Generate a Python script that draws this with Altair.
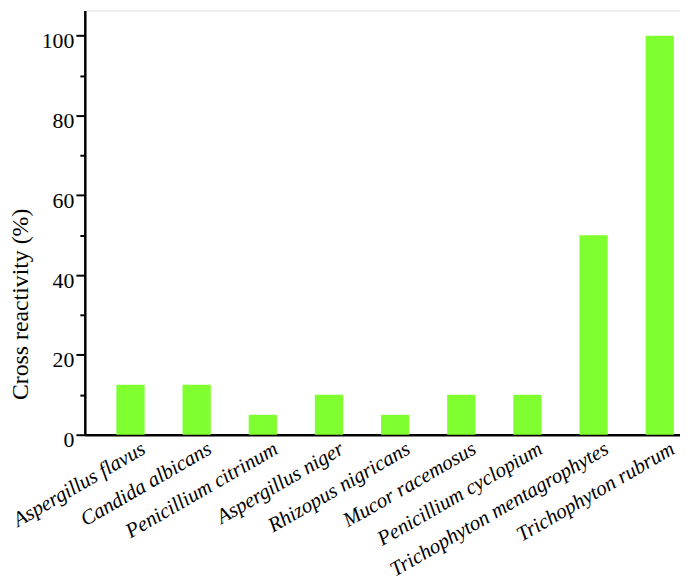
import altair as alt
import pandas as pd

species = [
    "Aspergillus flavus",
    "Candida albicans",
    "Penicillium citrinum",
    "Aspergillus niger",
    "Rhizopus nigricans",
    "Mucor racemosus",
    "Penicillium cyclopium",
    "Trichophyton mentagrophytes",
    "Trichophyton rubrum",
]
reactivity = [12.5, 12.5, 5, 10, 5, 10, 10, 50, 100]
y_ticks = [0, 10, 20, 30, 40, 50, 60, 70, 80, 90, 100]

df = pd.DataFrame({"species": species, "reactivity": reactivity})

FONT = "Liberation Serif"


def build(conditional=True):
    tick_size = (
        {"condition": {"test": "datum.value % 20 == 0", "value": 9}, "value": 5}
        if conditional
        else 8
    )
    yaxis = alt.Axis(
        title="Cross reactivity (%)",
        values=y_ticks,
        labelExpr="datum.value % 20 == 0 ? datum.label : ''",
        grid=False,
        domainColor="black",
        domainWidth=2.5,
        tickColor="black",
        tickWidth=2,
        tickSize=tick_size,
        labelFont=FONT,
        labelFontSize=22,
        labelColor="black",
        labelPadding=2,
        labelOffset=5,
        titleFont=FONT,
        titleFontSize=24,
        titleFontWeight="normal",
        titleColor="black",
        titleAngle=-90,
        titleAlign="center",
        titleBaseline="middle",
        titleX=-64.5,
        titleY=296,
    )
    xaxis = alt.Axis(
        title=None,
        labelAngle=-30,
        labelAlign="right",
        labelBaseline="top",
        labelOffset=8,
        labelPadding=3,
        labelFont=FONT,
        labelFontStyle="italic",
        labelFontSize=21,
        labelColor="black",
        labelLimit=400,
        ticks=False,
        domainColor="black",
        domainWidth=2.5,
        grid=False,
    )
    chart = (
        alt.Chart(df)
        .mark_bar(color="#80FF30")
        .encode(
            x=alt.X(
                "species:N",
                sort=species,
                axis=xaxis,
                scale=alt.Scale(paddingInner=0.573, paddingOuter=0.285, align=0.837),
            ),
            y=alt.Y(
                "reactivity:Q",
                axis=yaxis,
                scale=alt.Scale(domain=[0, 106.3], nice=False, zero=True),
            ),
        )
        .properties(
            width=600.5,
            height=428,
            autosize=alt.AutoSizeParams(type="none"),
            padding={"left": 77.5, "top": 0, "right": 0, "bottom": 144},
        )
        .configure_view(stroke=None)
        .configure(background="white")
    )
    return chart


try:
    chart = build(True)
    chart.to_dict()
except Exception:
    chart = build(False)

chart.save("out.html", embed_options={"renderer": "svg", "actions": False})
